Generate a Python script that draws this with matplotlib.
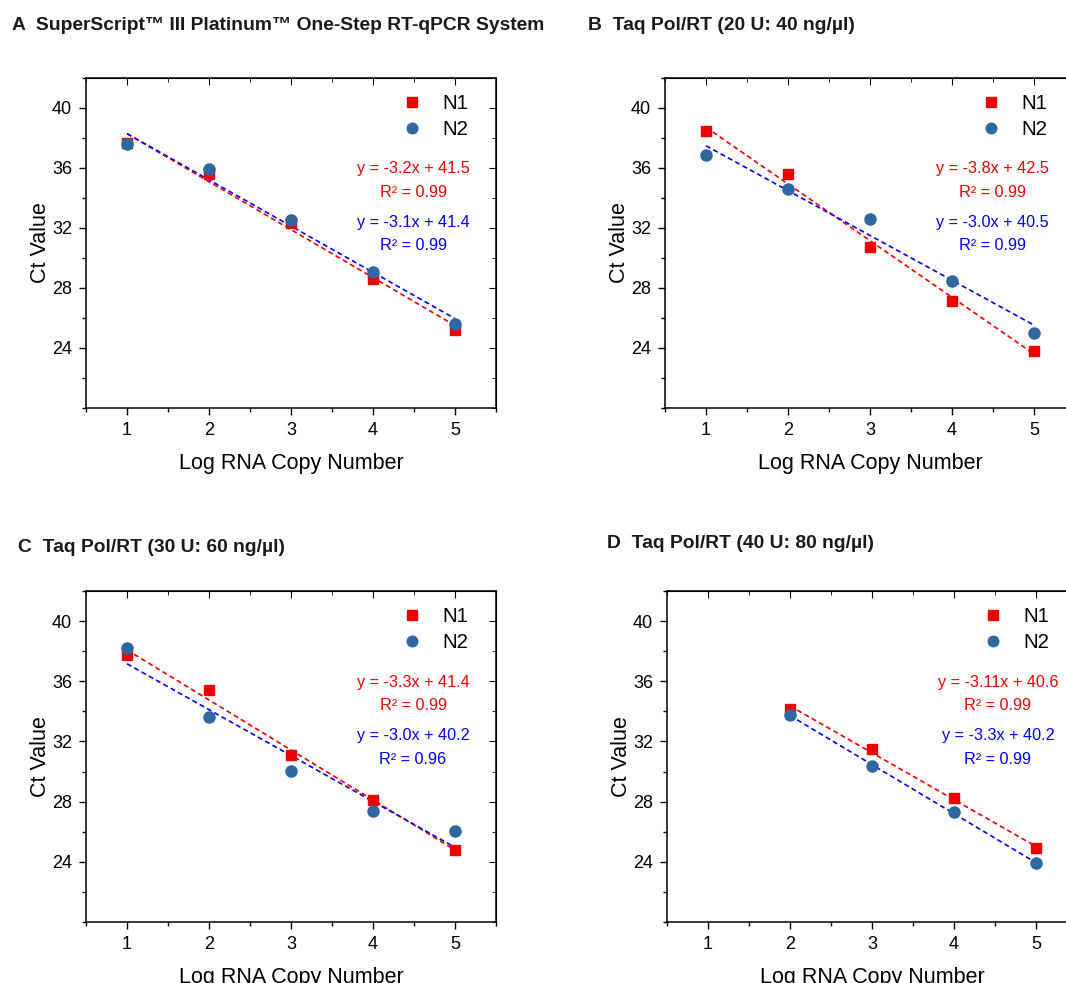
import numpy as np
import matplotlib
matplotlib.use("Agg")
import matplotlib.pyplot as plt
from matplotlib.ticker import MultipleLocator

plt.rcParams['font.family'] = ['Liberation Sans', 'DejaVu Sans']

# data
x_abc = [1, 2, 3, 4, 5]
x_d = [2, 3, 4, 5]

a_n1 = [37.70, 35.58, 32.36, 28.62, 25.20]
a_n2 = [37.58, 35.91, 32.51, 29.04, 25.60]
b_n1 = [38.47, 35.60, 30.76, 27.16, 23.80]
b_n2 = [36.85, 34.62, 32.60, 28.47, 24.98]
c_n1 = [37.73, 35.45, 31.11, 28.11, 24.78]
c_n2 = [38.22, 33.60, 30.02, 27.40, 26.07]
d_n1 = [34.18, 31.47, 28.22, 24.89]
d_n2 = [33.75, 30.35, 27.33, 23.89]

titles = ["SuperScript\u2122 III Platinum\u2122 One-Step RT-qPCR System",
          "Taq Pol/RT (20 U: 40 ng/\u00b5l)",
          "Taq Pol/RT (30 U: 60 ng/\u00b5l)",
          "Taq Pol/RT (40 U: 80 ng/\u00b5l)"]
letters = ["A", "B", "C", "D"]
eq_n1 = ["y = -3.2x + 41.5", "y = -3.8x + 42.5", "y = -3.3x + 41.4", "y = -3.11x + 40.6"]
eq_n2 = ["y = -3.1x + 41.4", "y = -3.0x + 40.5", "y = -3.0x + 40.2", "y = -3.3x + 40.2"]
r2_n1 = ["0.99", "0.99", "0.99", "0.99"]
r2_n2 = ["0.99", "0.99", "0.96", "0.99"]

panels = [(x_abc, a_n1, a_n2), (x_abc, b_n1, b_n2), (x_abc, c_n1, c_n2), (x_d, d_n1, d_n2)]

W, H = 1066, 983
fig = plt.figure(figsize=(W / 100, H / 100), dpi=100)

# axes boxes in pixels: left, top, right, bottom
boxes = [(86, 78, 496, 408), (665, 78, 1075, 408), (86, 591, 496, 922), (667, 591, 1077, 922)]
title_pos = [(12, 25), (588, 25), (18, 548), (607, 543)]
eq_center = [413, 992, 413, 998]

RED = '#ee0000'
BLUE_PT = '#2f67a1'

for i, (xs, n1, n2) in enumerate(panels):
    l, t, r, b = boxes[i]
    ax = fig.add_axes([l / W, 1 - b / H, (r - l) / W, (b - t) / H])
    ax.set_xlim(0.5, 5.5)
    ax.set_ylim(20, 42)

    # linear fits through the points
    xs_arr = np.array(xs, dtype=float)
    p1 = np.polyfit(xs_arr, n1, 1)
    p2 = np.polyfit(xs_arr, n2, 1)
    ax.plot(xs_arr, np.polyval(p1, xs_arr), color=RED, ls=(0, (3, 2)), lw=1.2, zorder=2)
    ax.plot(xs_arr, np.polyval(p2, xs_arr), color='#0000ff', ls=(0, (3, 2)), lw=1.2, zorder=2)

    ax.plot(xs, n1, 's', color=RED, ms=7, label='N1', zorder=3)
    ax.plot(xs, n2, 'o', color=BLUE_PT, ms=8, label='N2', zorder=4)

    ax.legend(loc='upper right', bbox_to_anchor=(0.952, 0.975), frameon=False,
              fontsize=14.7, handletextpad=1.0, labelspacing=0.32, borderaxespad=0,
              handlelength=1.0, markerscale=0.95)

    # equations
    cx = (eq_center[i] - l) / (r - l)
    kw = dict(fontsize=11.7, ha='center', va='center', transform=ax.transAxes)
    ax.text(cx, 0.725, eq_n1[i], color=RED, **kw)
    ax.text(cx, 0.653, "R\u00b2 = " + r2_n1[i], color=RED, **kw)
    ax.text(cx, 0.563, eq_n2[i], color='#0000ff', **kw)
    ax.text(cx, 0.492, "R\u00b2 = " + r2_n2[i], color='#0000ff', **kw)

    ax.set_xticks([1, 2, 3, 4, 5])
    ax.set_yticks([24, 28, 32, 36, 40])
    ax.xaxis.set_minor_locator(MultipleLocator(0.5))
    ax.yaxis.set_minor_locator(MultipleLocator(2))
    ax.tick_params(which='major', direction='out', length=5, width=1, labelsize=13, pad=5)
    ax.tick_params(which='minor', direction='out', length=3, width=1)
    for s in ax.spines.values():
        s.set_linewidth(1.1)

    # Origin style: inward ticks on top and right
    top = ax.secondary_xaxis('top')
    top.set_xticks([1, 2, 3, 4, 5])
    top.xaxis.set_minor_locator(MultipleLocator(0.5))
    top.tick_params(which='major', direction='in', length=5, labeltop=False)
    top.tick_params(which='minor', direction='in', length=3)
    right = ax.secondary_yaxis('right')
    right.set_yticks([24, 28, 32, 36, 40])
    right.yaxis.set_minor_locator(MultipleLocator(2))
    right.tick_params(which='major', direction='in', length=5, labelright=False)
    right.tick_params(which='minor', direction='in', length=3)

    ax.set_xlabel("Log RNA Copy Number", fontsize=15.5, labelpad=10)
    ax.set_ylabel("Ct Value", fontsize=15.5, labelpad=1)

    tx, ty = title_pos[i]
    fig.text(tx / W, 1 - ty / H, letters[i] + "  " + titles[i], fontsize=13.9, fontweight='bold',
             ha='left', va='center', color='#1a1a1a')

fig.savefig("out.png", dpi=100)
